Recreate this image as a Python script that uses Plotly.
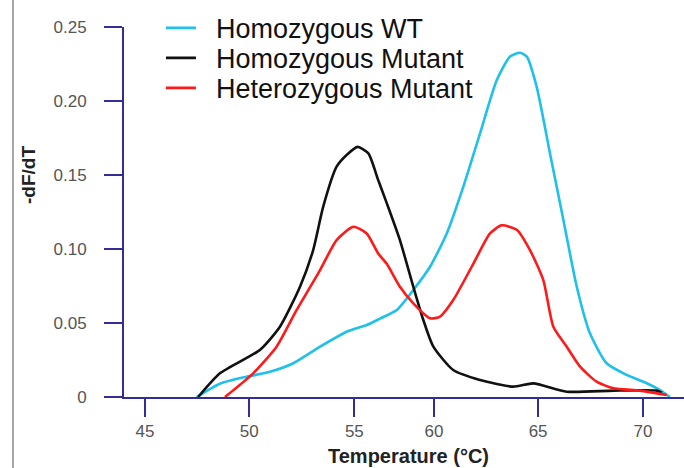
import plotly.graph_objects as go

# Temperature axis values (linear axis; tick labels placed where the reference prints them)
tick_vals = [46.17, 51.16, 56.19, 60.0, 64.98, 70.0]
tick_text = ["45", "50", "55", "60", "65", "70"]
y_tick_vals = [0, 0.05, 0.10, 0.15, 0.20, 0.25]
y_tick_text = ["0", "0.05", "0.10", "0.15", "0.20", "0.25"]

series_names = ["Homozygous WT", "Homozygous Mutant", "Heterozygous Mutant"]

wt_t = [48.64, 49.76, 51.04, 52.15, 53.27, 54.55, 55.82, 56.78, 57.42, 58.22, 59.01, 59.81,
        60.61, 61.40, 62.20, 63.00, 63.64, 64.11, 64.44, 64.91, 65.55, 66.19, 66.83, 67.46,
        68.26, 69.22, 70.18, 70.81, 71.29]
wt_v = [0.0, 0.009, 0.0137, 0.017, 0.0228, 0.034, 0.0441, 0.0486, 0.053, 0.0588, 0.0723, 0.088,
        0.1105, 0.142, 0.178, 0.214, 0.230, 0.2326, 0.230, 0.2097, 0.1646, 0.1196, 0.0745, 0.043,
        0.0228, 0.0149, 0.0093, 0.0047, 0.0]

mut_t = [48.72, 49.76, 51.67, 52.63, 53.59, 54.22, 54.70, 55.34, 55.82, 56.35, 56.86, 57.33,
         57.74, 58.37, 59.01, 59.49, 59.97, 60.92, 62.20, 63.79, 64.75, 66.35, 68.58, 70.66, 70.90]
mut_v = [0.0, 0.016, 0.0318, 0.0475, 0.0745, 0.0993, 0.1286, 0.1556, 0.1635, 0.169, 0.1646, 0.1466,
         0.131, 0.106, 0.0745, 0.052, 0.034, 0.0182, 0.0115, 0.007, 0.0092, 0.0036, 0.0043, 0.0043, 0.003]

het_t = [50.00, 51.35, 52.47, 53.43, 54.55, 55.34, 56.14, 56.78, 57.33, 57.74, 58.37, 59.01,
         59.81, 60.29, 60.92, 61.88, 62.68, 63.24, 63.96, 64.59, 65.23, 65.71, 66.35, 66.99,
         67.78, 68.58, 69.86, 71.13]
het_v = [0.0, 0.016, 0.034, 0.0588, 0.0858, 0.106, 0.115, 0.1105, 0.097, 0.090, 0.0745, 0.0633,
         0.0532, 0.0543, 0.0655, 0.090, 0.1105, 0.116, 0.113, 0.0993, 0.079, 0.0475, 0.034, 0.0205,
         0.0104, 0.0059, 0.0043, 0.0014]

colors = ["#1fc0ea", "#111111", "#ff1a1a"]
axis_color = "#322e96"
font_family = "Arial, 'Liberation Sans', sans-serif"

# one legend per series so the rows can sit as tightly as in the reference
legend_ids = ["legend", "legend2", "legend3"]
legend_rows_y = [0.9965, 0.9154, 0.8343]

fig = go.Figure()
for name, xs, ys, c, lg in zip(series_names, [wt_t, mut_t, het_t], [wt_v, mut_v, het_v], colors, legend_ids):
    fig.add_trace(go.Scatter(
        x=xs, y=ys, mode="lines", name="\u00a0\u00a0" + name, legend=lg,
        line=dict(color=c, width=2.6, shape="spline", smoothing=0.6),
    ))

legend_style = dict(
    x=0.066, xanchor="left", yanchor="middle",
    bgcolor="rgba(0,0,0,0)", borderwidth=0,
    font=dict(size=27, color="#111111", family=font_family),
)

fig.update_layout(
    width=684, height=468,
    margin=dict(l=124, r=0, t=27, b=71, autoexpand=False),
    paper_bgcolor="white", plot_bgcolor="white",
    font=dict(family=font_family),
    showlegend=True,
    legend=dict(legend_style, y=legend_rows_y[0]),
    legend2=dict(legend_style, y=legend_rows_y[1]),
    legend3=dict(legend_style, y=legend_rows_y[2]),
    xaxis=dict(
        range=[45.17, 71.96], showgrid=False, zeroline=False,
        showline=True, linecolor=axis_color, linewidth=2,
        ticks="outside", ticklen=18, tickwidth=2, tickcolor=axis_color,
        tickvals=tick_vals, ticktext=tick_text,
        tickfont=dict(size=17, color="#555555"),
    ),
    yaxis=dict(
        range=[0, 0.25], showgrid=False, zeroline=False,
        showline=True, linecolor=axis_color, linewidth=2,
        ticks="outside", ticklen=18, tickwidth=2, tickcolor=axis_color,
        tickvals=y_tick_vals, ticktext=y_tick_text,
        tickfont=dict(size=17, color="#555555"),
        ticklabelstandoff=14,
    ),
    annotations=[
        dict(
            text="<b>-dF/dT</b>", xref="paper", yref="paper",
            x=(28 - 124) / 560, y=(397 - 175) / 370, xanchor="center", yanchor="middle",
            textangle=-90, showarrow=False, font=dict(size=19, color="#222222"),
        ),
        dict(
            text="<b>Temperature (°C)</b>", xref="paper", yref="paper",
            x=(408 - 124) / 560, y=(397 - 456) / 370, xanchor="center", yanchor="middle",
            showarrow=False, font=dict(size=20, color="#222222"),
        ),
    ],
    shapes=[dict(
        type="line", xref="paper", yref="paper",
        x0=(13 - 124) / 560, x1=(13 - 124) / 560, y0=(397 - 470) / 370, y1=(397 + 2) / 370,
        line=dict(color="#8a8a8a", width=1.5),
    )],
)

fig.write_html(
    "out.html",
    config={"displayModeBar": False},
    post_script="document.body.style.margin='0';document.body.style.overflow='hidden';",
)
